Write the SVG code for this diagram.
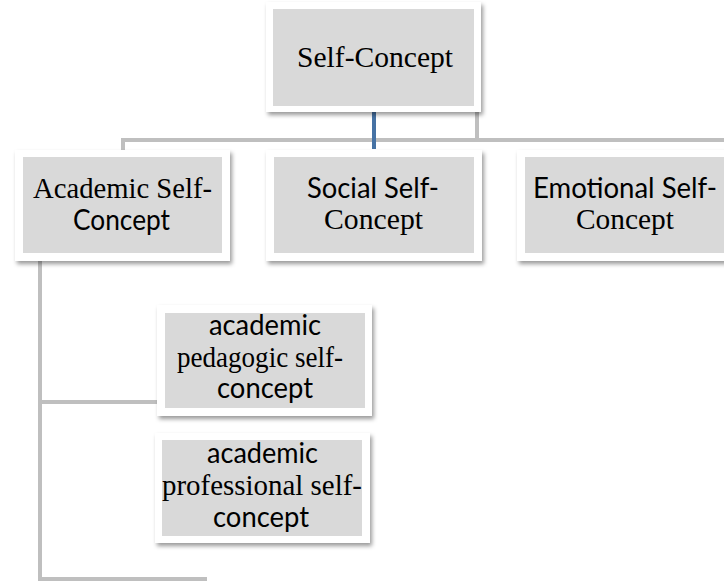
<svg xmlns="http://www.w3.org/2000/svg" width="724" height="582" viewBox="0 0 724 582">
<style>
.outer{fill:#ffffff;filter:url(#sh)}
.inner{fill:#d9d9d9}
.serif{font-family:"Liberation Serif","Times New Roman",serif;font-size:29px;fill:#000000}
.sans{font-family:Lato,"Noto Sans","Liberation Sans",sans-serif;font-size:28px;fill:#000000}
.ln{stroke:#bfbfbf;stroke-width:4;fill:none}
</style>
<defs>
<filter id="sh" x="-10%" y="-10%" width="125%" height="130%">
<feDropShadow dx="2" dy="3" stdDeviation="2" flood-color="#000000" flood-opacity="0.4"/>
</filter>
</defs>
<g id="connectors">
<line class="ln" x1="121" y1="140" x2="724" y2="140"/>
<line class="ln" x1="123" y1="138" x2="123" y2="152"/>
<line class="ln" x1="477" y1="110" x2="477" y2="142"/>
<line x1="374" y1="110" x2="374" y2="149" stroke="#4672a4" stroke-width="4"/>
<line class="ln" x1="40" y1="258" x2="40" y2="581"/>
<line class="ln" x1="38" y1="402" x2="160" y2="402"/>
<line class="ln" x1="38" y1="579" x2="207" y2="579"/>
</g>
<g id="self-concept">
<rect class="outer" x="266" y="2" width="215" height="110"/>
<rect class="inner" x="273" y="9" width="201" height="97"/>
<text class="serif" x="297" y="67" textLength="156" lengthAdjust="spacingAndGlyphs">Self-Concept</text>
</g>
<g id="academic">
<rect class="outer" x="15" y="150" width="215" height="111"/>
<rect class="inner" x="23" y="157" width="199" height="96"/>
<text class="serif" x="33" y="198" textLength="179" lengthAdjust="spacingAndGlyphs">Academic Self-</text>
<text class="sans" x="73" y="230" textLength="97" lengthAdjust="spacingAndGlyphs">Concept</text>
</g>
<g id="social">
<rect class="outer" x="266" y="150" width="216" height="111"/>
<rect class="inner" x="274" y="157" width="200" height="96"/>
<text class="sans" x="307" y="198" textLength="132" lengthAdjust="spacingAndGlyphs">Social Self-</text>
<text class="serif" x="324" y="229" textLength="99" lengthAdjust="spacingAndGlyphs">Concept</text>
</g>
<g id="emotional">
<rect class="outer" x="517" y="150" width="216" height="111"/>
<rect class="inner" x="525" y="157" width="200" height="96"/>
<text class="sans" x="533" y="198" textLength="184" lengthAdjust="spacingAndGlyphs">Emotional Self-</text>
<text class="serif" x="576" y="229" textLength="98" lengthAdjust="spacingAndGlyphs">Concept</text>
</g>
<g id="pedagogic">
<rect class="outer" x="157" y="305" width="215" height="111"/>
<rect class="inner" x="165" y="313" width="200" height="95"/>
<text class="sans" x="209" y="335" textLength="112" lengthAdjust="spacingAndGlyphs">academic</text>
<text class="serif" x="177" y="367" textLength="166" lengthAdjust="spacingAndGlyphs">pedagogic self-</text>
<text class="sans" x="217" y="398" textLength="96" lengthAdjust="spacingAndGlyphs">concept</text>
</g>
<g id="professional">
<rect class="outer" x="155" y="433" width="215" height="110"/>
<rect class="inner" x="162" y="440" width="200" height="96"/>
<text class="sans" x="207" y="463" textLength="111" lengthAdjust="spacingAndGlyphs">academic</text>
<text class="serif" x="162" y="495" textLength="200" lengthAdjust="spacingAndGlyphs">professional self-</text>
<text class="sans" x="213" y="527" textLength="96" lengthAdjust="spacingAndGlyphs">concept</text>
</g>
</svg>
